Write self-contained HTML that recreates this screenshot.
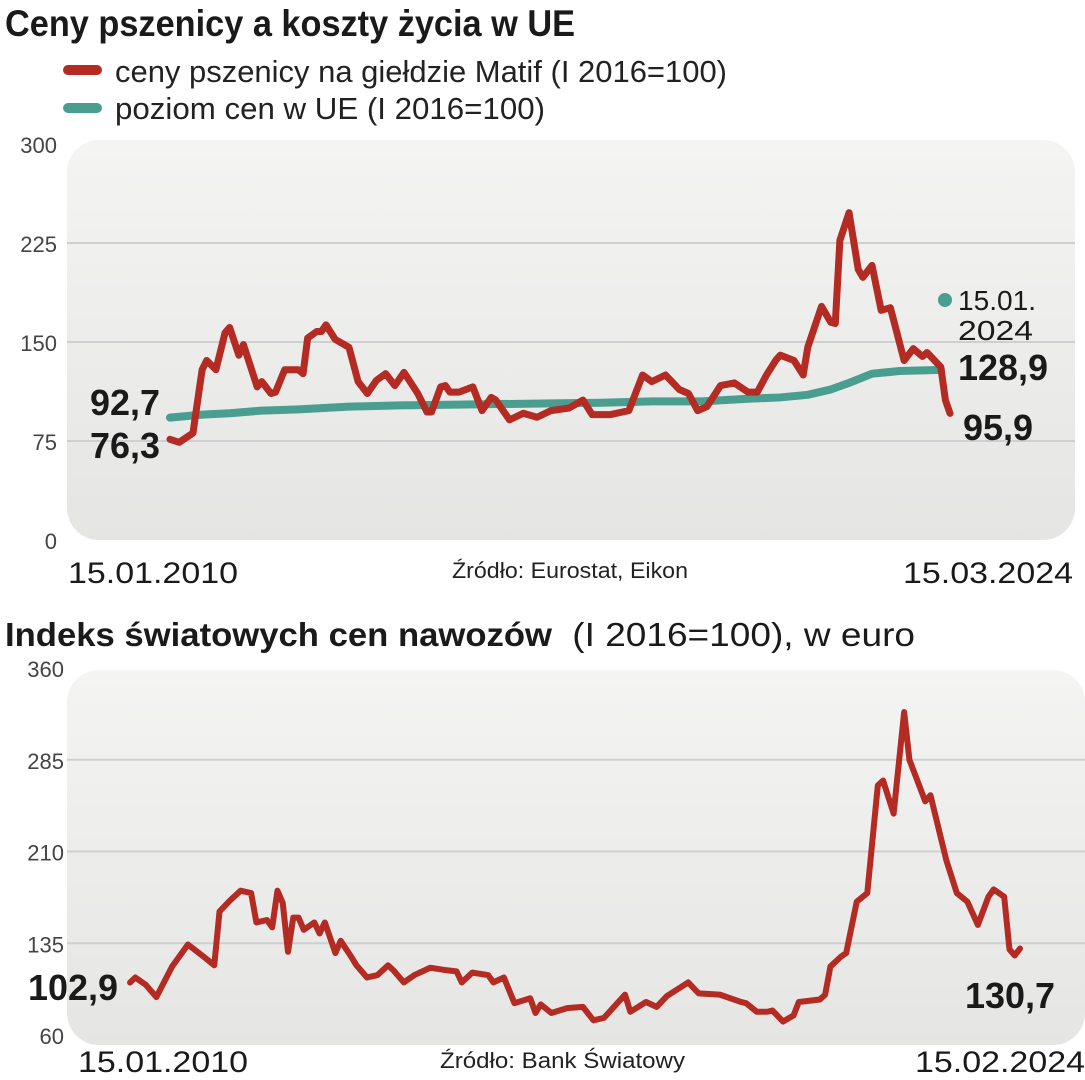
<!DOCTYPE html>
<html><head><meta charset="utf-8"><style>
html,body{margin:0;padding:0;background:#fff;}
svg{display:block;font-family:"Liberation Sans",sans-serif;}
</style></head><body>
<svg id="c" width="1085" height="1080" viewBox="0 0 1085 1080" xmlns="http://www.w3.org/2000/svg">
<defs>
<linearGradient id="bg" x1="0" y1="0" x2="0" y2="1"><stop offset="0" stop-color="#f4f4f3"/><stop offset="1" stop-color="#e5e5e4"/></linearGradient>
</defs>
<text x="5" y="36" font-size="37" font-weight="bold" fill="#1a1a1a" textLength="570" lengthAdjust="spacingAndGlyphs">Ceny pszenicy a koszty życia w UE</text>
<line x1="68" y1="70" x2="97" y2="70" stroke="#b32b22" stroke-width="10" stroke-linecap="round"/>
<text x="115" y="82" font-size="31" fill="#222" textLength="612" lengthAdjust="spacingAndGlyphs">ceny pszenicy na giełdzie Matif (I 2016=100)</text>
<line x1="68" y1="108" x2="97" y2="108" stroke="#4a9e90" stroke-width="10" stroke-linecap="round"/>
<text x="115" y="119" font-size="31" fill="#222" textLength="430" lengthAdjust="spacingAndGlyphs">poziom cen w UE (I 2016=100)</text>
<rect x="67" y="140" width="1008" height="400" rx="32" fill="url(#bg)"/>
<g id="g1"></g>
<text x="68" y="583" font-size="30" fill="#1a1a1a" textLength="170" lengthAdjust="spacingAndGlyphs">15.01.2010</text>
<text x="452" y="578" font-size="22" fill="#222" textLength="236" lengthAdjust="spacingAndGlyphs">Źródło: Eurostat, Eikon</text>
<text x="903" y="583" font-size="30" fill="#1a1a1a" textLength="170" lengthAdjust="spacingAndGlyphs">15.03.2024</text>
<text x="5" y="646" font-size="33" fill="#1a1a1a"><tspan font-weight="bold" textLength="547" lengthAdjust="spacingAndGlyphs">Indeks światowych cen nawozów</tspan><tspan x="562" textLength="353" lengthAdjust="spacingAndGlyphs"> (I 2016=100), w euro</tspan></text>
<rect x="67" y="670" width="1018" height="375" rx="32" fill="url(#bg)"/>
<g id="g2"></g>
<text x="78" y="1072" font-size="30" fill="#1a1a1a" textLength="170" lengthAdjust="spacingAndGlyphs">15.01.2010</text>
<text x="440" y="1068" font-size="22" fill="#222" textLength="245" lengthAdjust="spacingAndGlyphs">Źródło: Bank Światowy</text>
<text x="915" y="1072" font-size="30" fill="#1a1a1a" textLength="170" lengthAdjust="spacingAndGlyphs">15.02.2024</text>
</svg>
<script>
// Chart 1 data (months since Jan 2010)
const wheatMonths=[0,2,5,7,8,10,12,13,15,16,19,20,22,23,25,28,29,30,32,33,34,36,39,41,43,45,47,49,51,54,56,57,59,60,61,63,66,68,70,71,74,77,80,83,87,90,92,96,100,103,105,108,111,113,115,117,120,123,126,128,130,132,133,136,138,139,142,144,145,146,148,150,151,153,155,157,160,162,164,165,168,169,170];
const wheatValues=[76.3,74,81,129,136,129,157,161,140,148,116,120,111,112,129,129,126,153,158,158,163,152,146,120,111,121,126,117,127,111,97,97,116,117,112,112,116,98,108,106,91,96,93,98,100,106,95,95,98,125,120,125,114,111,98,101,117,119,112,112,125,136,140,136,125,146,177,165,164,227,248,205,199,208,174,176,136,145,139,142,131,106,95.9];
const euMonths=[0,7,13,20,28,39,50,61,72,83,94,105,116,126,133,139,144,148,153,159,168];
const euValues=[92.7,95,96,98,99,101,102,102.5,103,103.5,104,105,105,107,108,110,114,119,126,128,128.9];
const yTicks1=[0,75,150,225,300];
const yTickLabels1=["0","75","150","225","300"];
// Chart 2 data
const fertMonths=[0,1,3,5,8,11,14,16,17,19,21,23,24,26,27,28,29,30,31,32,33,35,36,37,39,40,42,43,45,47,49,50,52,54,57,60,62,63,65,68,69,71,73,76,77,78,80,83,86,88,90,94,95,98,100,102,106,108,112,116,117,119,121,122,124,126,127,131,132,133,135,136,138,140,142,143,145,147,148,151,152,155,157,159,161,163,164,166,167,168,169];
const fertValues=[102.9,107,101,91,116,134,124,117,161,170,178,176,152,154,148,178,168,128,156,156,146,152,143,152,127,137,124,117,107,109,117,113,103,109,115,113,112,103,111,109,103,107,86,90,78,85,78,82,83,72,74,93,79,87,83,92,103,94,93,87,86,79,79,80,71,76,87,89,93,116,124,127,169,176,264,268,241,324,285,251,256,203,176,169,150,173,179,173,130,125,130.7];
const yTicks2=[60,135,210,285,360];
const yTickLabels2=["60","135","210","285","360"];

const NS="http://www.w3.org/2000/svg";
function mk(parent,tag,attrs){const e=document.createElementNS(NS,tag);for(const k in attrs)e.setAttribute(k,attrs[k]);parent.appendChild(e);return e;}
// axis functions
const x1=m=>170+m*(780/170);
const y1=v=>540-v*1.32;
const x2=m=>130+m*(890/169);
const y2=v=>1035-(v-60)*1.2233;

const g1=document.getElementById('g1');
yTicks1.forEach((t,i)=>{
  if(t>0&&t<300){const l=mk(g1,'line',{x1:67,x2:1075,y1:y1(t),y2:y1(t),stroke:'#cfcfcf','stroke-width':2});
  
  }
  const tx=mk(g1,'text',{x:57,y:y1(t)+9,'font-size':22,fill:'#444','text-anchor':'end'});
  tx.textContent=yTickLabels1[i];
  
  
});
const eu=mk(g1,'polyline',{points:euMonths.map((m,i)=>x1(m)+','+y1(euValues[i])).join(' '),fill:'none',stroke:'#4a9e90','stroke-width':8,'stroke-linejoin':'round','stroke-linecap':'round'});


const wh=mk(g1,'polyline',{points:wheatMonths.map((m,i)=>x1(m)+','+y1(wheatValues[i])).join(' '),fill:'none',stroke:'#b32b22','stroke-width':7,'stroke-linejoin':'round','stroke-linecap':'round'});


const dot=mk(g1,'circle',{cx:945,cy:300,r:7,fill:'#4a9e90'});


function lab(g,txt,x,y,size,w,name,bold){const t=mk(g,'text',{x:x,y:y,'font-size':size,fill:'#1a1a1a','font-weight':bold?'bold':'normal',textLength:w,lengthAdjust:'spacingAndGlyphs'});t.textContent=txt;return t;}
lab(g1,'15.01.',958,310,28,78,'eu-date-label-line1',false);
lab(g1,'2024',958,340,28,75,'eu-date-label-line2',false);
lab(g1,'128,9',958,380,36,90,'eu-end-value-label',true);
lab(g1,'95,9',963,440,36,70,'wheat-end-value-label',true);
lab(g1,'92,7',90,415,36,70,'eu-start-value-label',true);
lab(g1,'76,3',90,458,36,70,'wheat-start-value-label',true);

const g2=document.getElementById('g2');
yTicks2.forEach((t,i)=>{
  if(t>60&&t<360){const l=mk(g2,'line',{x1:67,x2:1085,y1:y2(t),y2:y2(t),stroke:'#cfcfcf','stroke-width':2});
  
  }
  const tx=mk(g2,'text',{x:64,y:y2(t)+9,'font-size':22,fill:'#444','text-anchor':'end'});
  tx.textContent=yTickLabels2[i];
  
  
});
const fl=mk(g2,'polyline',{points:fertMonths.map((m,i)=>x2(m)+','+y2(fertValues[i])).join(' '),fill:'none',stroke:'#b32b22','stroke-width':6,'stroke-linejoin':'round','stroke-linecap':'round'});


lab(g2,'102,9',28,1000,36,90,'fertilizer-start-value-label',true);
lab(g2,'130,7',965,1008,36,90,'fertilizer-end-value-label',true);
</script>
</body></html>
